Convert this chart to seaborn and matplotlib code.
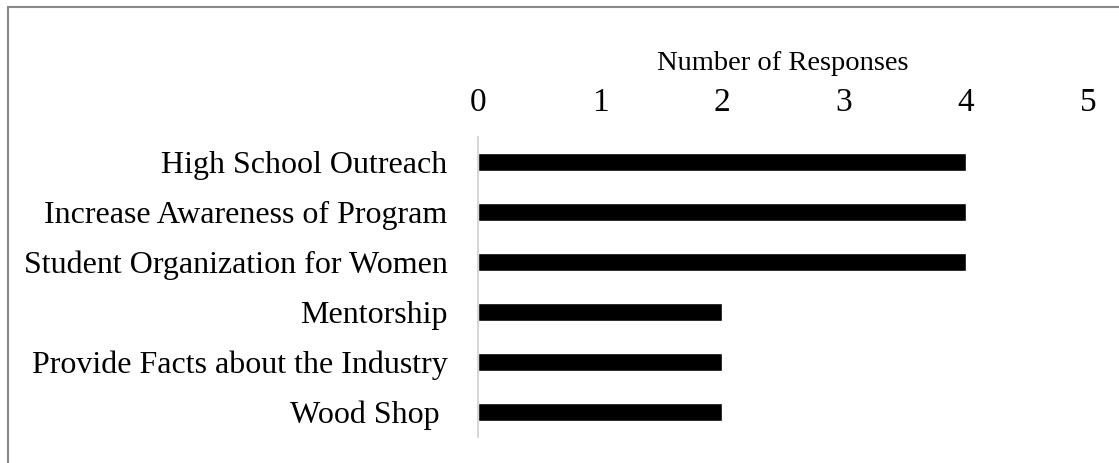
import matplotlib
matplotlib.use("Agg")
import matplotlib.pyplot as plt
import seaborn as sns
import pandas as pd
from matplotlib.patches import Rectangle

# data
categories = ["High School Outreach", "Increase Awareness of Program",
              "Student Organization for Women", "Mentorship",
              "Provide Facts about the Industry", "Wood Shop "]
responses = [4, 4, 4, 2, 2, 2]
xticks = [0, 1, 2, 3, 4, 5]

df = pd.DataFrame({"category": categories, "responses": responses})

sns.set_style("white")
plt.rcParams["font.family"] = ["Liberation Serif", "DejaVu Serif"]
plt.rcParams["text.color"] = "black"
plt.rcParams["xtick.color"] = "black"
plt.rcParams["ytick.color"] = "black"
plt.rcParams["axes.labelcolor"] = "black"

fig = plt.figure(figsize=(11.19, 4.63), dpi=100)
ax = fig.add_axes([478 / 1119, 1 - 437 / 463, 610 / 1119, 300 / 463])

sns.barplot(data=df, x="responses", y="category", color="black",
            width=0.35, saturation=1, ax=ax, orient="h")

ax.set_xlim(0, 5)
ax.set_ylim(5.5, -0.5)
ax.set_xticks(xticks)
ax.xaxis.tick_top()
ax.xaxis.set_label_position("top")
ax.set_xlabel("Number of Responses", fontsize=20.5, labelpad=12)
ax.set_ylabel("")
ax.tick_params(axis="x", length=0, labelsize=24, pad=14)
ax.tick_params(axis="y", length=0, labelsize=23, pad=22)
for s in ["top", "right", "bottom"]:
    ax.spines[s].set_visible(False)
ax.spines["left"].set_color("#d0d0d0")
ax.spines["left"].set_linewidth(1.2)

# outer frame of the figure box
fig.patches.append(Rectangle((8 / 1119, -0.1), 1.2, 1.1 - 7 / 463,
                             transform=fig.transFigure, fill=False,
                             edgecolor="#888888", linewidth=1.5))

fig.savefig("out.png", dpi=100)
